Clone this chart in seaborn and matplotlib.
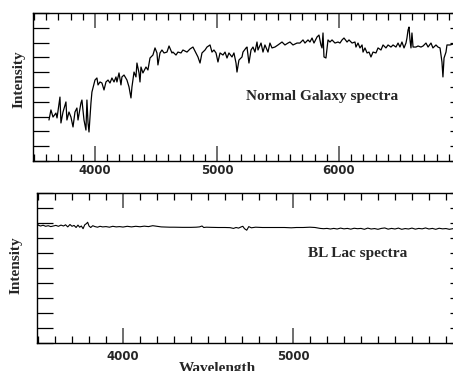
import numpy as np
import pandas as pd
import matplotlib
matplotlib.use("Agg")
import matplotlib.pyplot as plt
from matplotlib.ticker import MultipleLocator, FixedLocator, NullFormatter
import seaborn as sns

# Normal galaxy spectrum (wavelength in Angstrom, relative intensity)
gal_wave = [3623, 3639, 3656, 3680, 3689, 3713, 3721, 3738, 3762, 3770, 3787, 3803, 3820, 3836,
            3852, 3861, 3885, 3893, 3910, 3926, 3934, 3943, 3951, 3967, 3975, 4000, 4016, 4025,
            4041, 4057, 4074, 4090, 4107, 4123, 4139, 4156, 4172, 4180, 4197, 4213, 4221, 4238,
            4262, 4279, 4295, 4303, 4320, 4336, 4344, 4361, 4369, 4377, 4385, 4393, 4418, 4434,
            4451, 4475, 4492, 4508, 4516, 4533, 4549, 4566, 4590, 4607, 4631, 4639, 4664, 4680,
            4705, 4721, 4754, 4779, 4803, 4828, 4844, 4861, 4877, 4902, 4918, 4943, 4959, 4975,
            4992, 5008, 5025, 5049, 5066, 5082, 5098, 5123, 5139, 5156, 5164, 5180, 5205, 5213,
            5238, 5246, 5262, 5279, 5295, 5311, 5328, 5336, 5361, 5377, 5393, 5418, 5434, 5451,
            5475, 5500, 5533, 5557, 5582, 5598, 5623, 5656, 5680, 5705, 5721, 5746, 5762, 5779,
            5795, 5820, 5836, 5852, 5861, 5869, 5877, 5893, 5910, 5926, 5943, 5967, 5992, 6008,
            6025, 6041, 6066, 6082, 6107, 6131, 6139, 6156, 6172, 6189, 6197, 6213, 6230, 6246,
            6262, 6279, 6303, 6320, 6344, 6361, 6385, 6402, 6426, 6443, 6467, 6484, 6500, 6516,
            6533, 6549, 6557, 6566, 6574, 6582, 6590, 6598, 6607, 6631, 6648, 6672, 6689, 6713,
            6730, 6754, 6770, 6795, 6811, 6828, 6844, 6852, 6861, 6877, 6885, 6910, 6934, 6960]
gal_flux = [2.77, 3.45, 2.97, 3.24, 2.91, 4.32, 2.57, 3.31, 3.99, 2.77, 3.31, 2.97, 2.30, 3.31,
            3.58, 2.77, 3.92, 4.12, 2.77, 2.09, 4.12, 2.57, 1.96, 3.92, 4.66, 5.47, 5.61, 5.14,
            5.34, 5.27, 4.80, 5.34, 5.47, 5.27, 5.61, 5.34, 5.68, 5.34, 5.95, 5.14, 5.68, 5.81,
            5.47, 5.00, 4.26, 5.00, 6.01, 5.68, 6.62, 5.95, 5.34, 6.35, 6.15, 5.95, 6.35, 6.15,
            6.96, 7.16, 7.64, 7.30, 6.49, 7.30, 7.50, 7.30, 7.36, 7.77, 7.30, 7.36, 7.16, 7.36,
            7.30, 7.50, 7.36, 7.57, 7.70, 7.30, 7.03, 6.62, 7.30, 7.50, 7.70, 7.84, 7.36, 7.50,
            7.30, 6.69, 7.30, 7.16, 7.36, 6.96, 7.30, 7.03, 7.30, 6.62, 6.01, 6.82, 7.03, 7.36,
            7.64, 7.70, 6.62, 7.50, 7.70, 7.36, 8.04, 7.50, 7.97, 7.36, 7.84, 7.36, 7.97, 7.64,
            7.70, 7.84, 8.04, 7.84, 7.97, 8.04, 7.84, 7.97, 7.97, 8.18, 7.97, 8.18, 8.04, 8.31,
            7.97, 8.38, 8.51, 7.84, 7.64, 8.65, 7.03, 6.96, 8.18, 8.04, 8.18, 7.97, 8.04, 7.97,
            8.18, 8.31, 8.04, 8.18, 7.97, 8.04, 7.70, 7.97, 7.64, 7.84, 7.36, 7.64, 7.30, 7.36,
            7.03, 7.36, 7.30, 7.64, 7.50, 7.84, 7.64, 7.84, 7.70, 7.84, 7.70, 7.97, 7.70, 8.04,
            7.64, 7.97, 8.31, 8.85, 9.05, 8.18, 7.64, 8.65, 7.70, 7.70, 7.77, 7.70, 7.77, 7.97,
            7.70, 7.97, 7.64, 7.84, 7.70, 7.64, 6.69, 5.68, 6.96, 7.36, 7.84, 7.84, 7.90, 7.85]

# BL Lac object spectrum: nearly featureless continuum
blac_wave = [3494, 3497, 3502, 3515, 3530, 3545, 3560, 3575, 3590, 3605, 3620, 3635, 3650, 3662,
             3675, 3688, 3700, 3712, 3724, 3735, 3745, 3755, 3765, 3775, 3785, 3792, 3800, 3810,
             3822, 3835, 3850, 3865, 3880, 3900, 3920, 3940, 3960, 3980, 4000, 4025, 4050, 4075,
             4100, 4125, 4150, 4175, 4200, 4225, 4250, 4275, 4300, 4350, 4400, 4430, 4450, 4465,
             4475, 4490, 4520, 4560, 4600, 4630, 4650, 4665, 4680, 4695, 4705, 4715, 4728, 4740,
             4755, 4780, 4820, 4880, 4950, 4990, 5020, 5060, 5100, 5130, 5160, 5180, 5200, 5220,
             5240, 5260, 5280, 5300, 5320, 5340, 5360, 5380, 5400, 5420, 5440, 5460, 5480, 5500,
             5520, 5540, 5560, 5580, 5600, 5620, 5640, 5660, 5680, 5700, 5720, 5740, 5760, 5780,
             5800, 5820, 5840, 5860, 5880, 5900, 5920, 5940, 5960, 5980, 6000, 6020]
blac_flux = [8.30, 7.95, 7.85, 7.80, 7.85, 7.78, 7.82, 7.76, 7.80, 7.84, 7.78, 7.86, 7.80, 7.88,
             7.74, 7.90, 7.78, 7.84, 7.70, 7.86, 7.72, 7.80, 7.62, 7.88, 7.96, 8.05, 7.80, 7.70,
             7.82, 7.76, 7.72, 7.78, 7.74, 7.76, 7.72, 7.78, 7.74, 7.76, 7.73, 7.78, 7.74, 7.78,
             7.75, 7.79, 7.76, 7.82, 7.78, 7.74, 7.73, 7.72, 7.72, 7.71, 7.71, 7.72, 7.74, 7.80,
             7.70, 7.72, 7.71, 7.70, 7.70, 7.69, 7.64, 7.70, 7.66, 7.74, 7.78, 7.62, 7.52, 7.76,
             7.68, 7.72, 7.70, 7.70, 7.70, 7.68, 7.70, 7.70, 7.72, 7.70, 7.64, 7.62, 7.64, 7.60,
             7.64, 7.60, 7.66, 7.61, 7.64, 7.59, 7.65, 7.62, 7.64, 7.58, 7.66, 7.60, 7.63, 7.58,
             7.64, 7.67, 7.59, 7.64, 7.60, 7.66, 7.58, 7.63, 7.60, 7.66, 7.59, 7.64, 7.61, 7.67,
             7.60, 7.64, 7.58, 7.65, 7.61, 7.63, 7.58, 7.62, 7.60, 7.63, 7.60, 7.62]

gal_xticks = ["4000", "5000", "6000"]
blac_xticks = ["4000", "5000"]

sns.set_style("ticks")
plt.rcParams["font.family"] = ["DejaVu Sans"]

W, H = 453, 371
fig = plt.figure(figsize=(W / 100, H / 100), dpi=100)


def px_rect(left, top, right, bottom):
    return [left / W, 1 - bottom / H, (right - left) / W, (bottom - top) / H]


ax1 = fig.add_axes(px_rect(33, 13, 466, 161))
ax2 = fig.add_axes(px_rect(37, 193, 466, 343))

gal = pd.DataFrame({"Wavelength": gal_wave, "Intensity": gal_flux})
blac = pd.DataFrame({"Wavelength": blac_wave, "Intensity": blac_flux})

sns.lineplot(data=gal, x="Wavelength", y="Intensity", ax=ax1, color="black",
             linewidth=0.9, estimator=None, sort=False)
sns.lineplot(data=blac, x="Wavelength", y="Intensity", ax=ax2, color="black",
             linewidth=0.8, estimator=None, sort=False)

ax1.set_xlim(3492, 7041)
ax2.set_xlim(3494, 6018)

serif_bold = dict(family=["Liberation Serif", "DejaVu Serif"], weight="bold", size=11)
tick_font = dict(family=["DejaVu Sans"], weight="bold", size=8.5)

for ax, ticks, pad in ((ax1, gal_xticks, 2.0), (ax2, blac_xticks, 5.0)):
    ax.set_ylim(0, 10)
    ax.xaxis.set_major_locator(FixedLocator([int(t) for t in ticks]))
    ax.xaxis.set_minor_locator(MultipleLocator(100))
    ax.yaxis.set_major_locator(MultipleLocator(1))
    ax.yaxis.set_major_formatter(NullFormatter())
    ax.tick_params(axis="x", which="major", direction="in", length=10.5, width=1.2,
                   top=True, bottom=True, pad=pad, color="#555555")
    ax.tick_params(axis="x", which="minor", direction="in", length=5, width=0.9,
                   top=True, bottom=True, color="black")
    ax.tick_params(axis="y", which="major", direction="in", length=11.5, width=0.9,
                   left=True, right=True, color="black")
    for lab in ax.get_xticklabels():
        lab.set_fontfamily(tick_font["family"])
        lab.set_fontweight(tick_font["weight"])
        lab.set_fontsize(tick_font["size"])
    for sp in ax.spines.values():
        sp.set_linewidth(1.0)
        sp.set_color("black")
    ax.set_ylabel("Intensity", fontdict=serif_bold)
    ax.set_xlabel("")

ax1.yaxis.set_label_coords(-0.018, 0.554)
ax2.yaxis.set_label_coords(-0.033, 0.52)
ax2.set_xlabel("Wavelength", fontdict=serif_bold)
ax2.xaxis.set_label_coords(0.42, -0.127)

ax1.text(0.492, 0.439, "Normal Galaxy spectra", transform=ax1.transAxes,
         ha="left", va="center", fontdict=serif_bold)
ax2.text(0.632, 0.60, "BL Lac spectra", transform=ax2.transAxes,
         ha="left", va="center", fontdict=serif_bold)

fig.savefig("out.png", dpi=100)
